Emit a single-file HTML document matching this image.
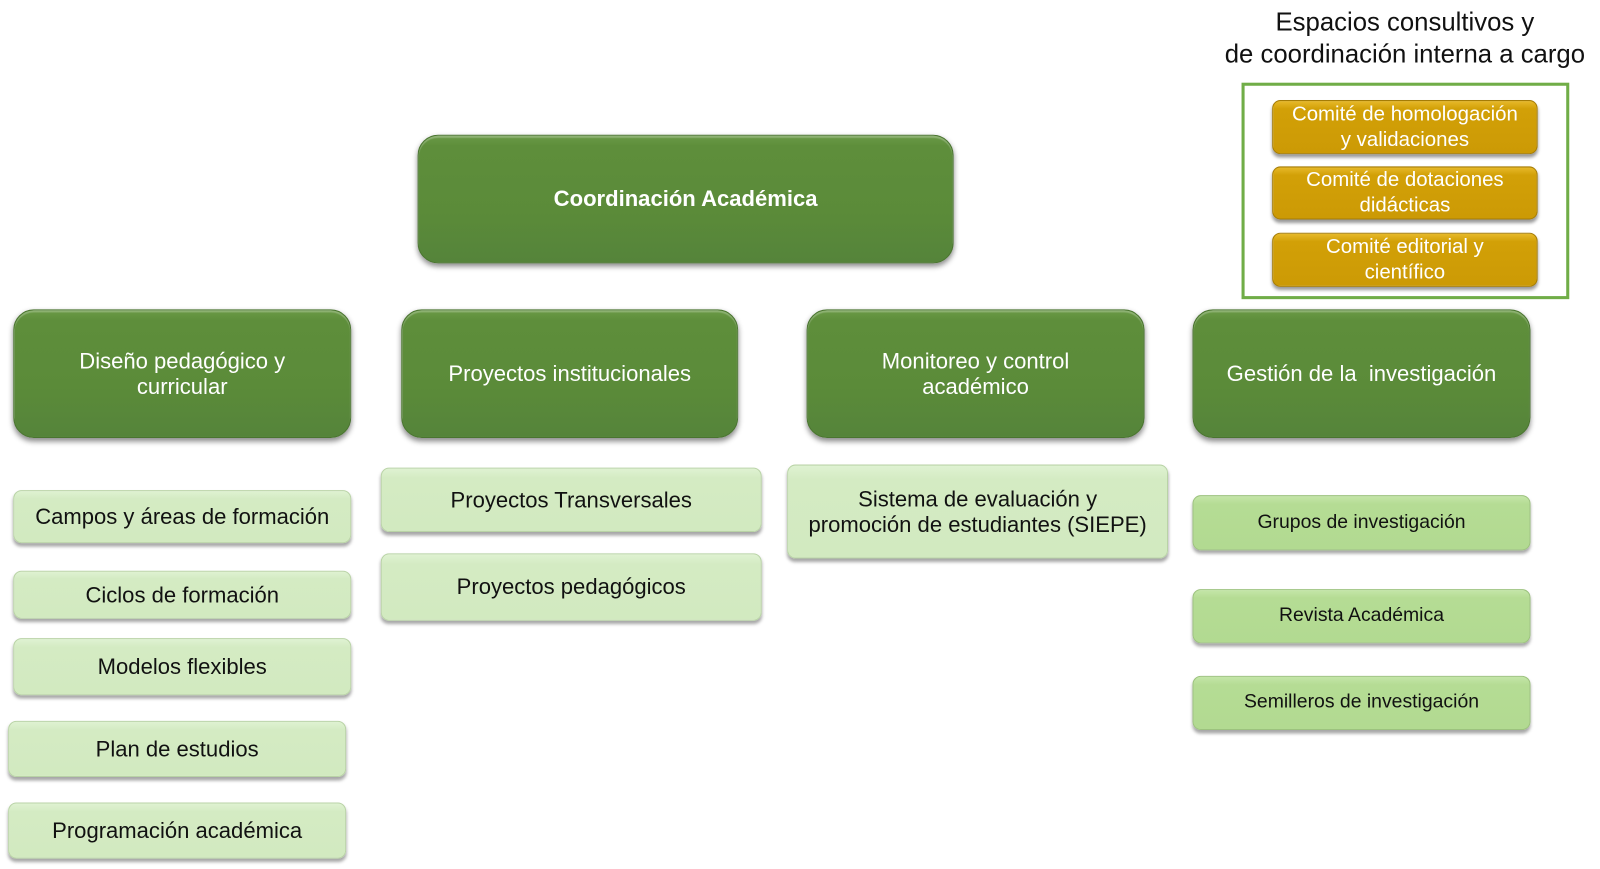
<!DOCTYPE html>
<html>
<head>
<meta charset="utf-8">
<style>
html,body{margin:0;padding:0;background:#fff;}
body{width:1600px;height:869px;position:relative;overflow:hidden;font-family:"Liberation Sans",Arial,sans-serif;}
#w{position:absolute;left:0;top:0;width:1567px;height:851px;transform:scale(1.021);transform-origin:0 0;}
.b{position:absolute;display:flex;align-items:center;justify-content:center;text-align:center;box-sizing:border-box;line-height:1.17;}
.dk{background:linear-gradient(#6a9a46 0%,#5e8e3b 8%,#5b8b39 60%,#55843a 100%);border:1px solid #4a7430;border-radius:20px;color:#fff;font-size:21.6px;box-shadow:0 3px 5px rgba(0,0,0,0.45), inset 0 2px 1px rgba(255,255,255,0.25);}
.lt{background:linear-gradient(#dff2d2 0%,#d4ebc3 15%,#d2eac0 100%);border:1px solid #b9d3a6;border-radius:8px;color:#111;font-size:21.6px;box-shadow:0 3px 3px rgba(0,0,0,0.35);}
.md{background:linear-gradient(#c4e6a8 0%,#b5dc94 15%,#b2da91 100%);border:1px solid #9cc27e;border-radius:8px;color:#111;font-size:19px;box-shadow:0 3px 3px rgba(0,0,0,0.35);}
.gd{background:linear-gradient(#e7b92a 0%,#d2a007 15%,#cc9a05 100%);border:1px solid #a57c05;border-radius:8px;color:#fff;font-size:20px;line-height:25px;box-shadow:0 3px 3px rgba(0,0,0,0.4);}
.title{position:absolute;left:1176px;width:400px;top:7px;text-align:center;font-size:25.2px;line-height:31px;color:#111;}
.frame{position:absolute;left:1216px;top:81px;width:321px;height:212px;border:3px solid #70ad47;box-sizing:border-box;}
</style>
</head>
<body>
<div id="w">
<div class="title">Espacios consultivos y<br>de coordinación interna a cargo</div>
<div class="frame"></div>
<div class="b gd" style="left:1246px;top:98px;width:260px;height:53px;">Comité de homologación<br>y validaciones</div>
<div class="b gd" style="left:1246px;top:163px;width:260px;height:52px;">Comité de dotaciones<br>didácticas</div>
<div class="b gd" style="left:1246px;top:228px;width:260px;height:53px;">Comité editorial y<br>científico</div>

<div class="b dk" style="left:409px;top:132px;width:525px;height:126px;font-weight:bold;">Coordinación Académica</div>

<div class="b dk" style="left:13px;top:303px;width:331px;height:126px;">Diseño pedagógico y<br>curricular</div>
<div class="b dk" style="left:393px;top:303px;width:330px;height:126px;">Proyectos institucionales</div>
<div class="b dk" style="left:790px;top:303px;width:331px;height:126px;">Monitoreo y control<br>académico</div>
<div class="b dk" style="left:1168px;top:303px;width:331px;height:126px;">Gestión de la&nbsp; investigación</div>

<div class="b lt" style="left:13px;top:480px;width:331px;height:52px;">Campos y áreas de formación</div>
<div class="b lt" style="left:13px;top:559px;width:331px;height:47px;">Ciclos de formación</div>
<div class="b lt" style="left:13px;top:625px;width:331px;height:56px;">Modelos flexibles</div>
<div class="b lt" style="left:8px;top:706px;width:331px;height:55px;">Plan de estudios</div>
<div class="b lt" style="left:8px;top:786px;width:331px;height:55px;">Programación académica</div>

<div class="b lt" style="left:373px;top:458px;width:373px;height:63px;">Proyectos Transversales</div>
<div class="b lt" style="left:373px;top:542px;width:373px;height:66px;">Proyectos pedagógicos</div>

<div class="b lt" style="left:771px;top:455px;width:373px;height:92px;">Sistema de evaluación y<br>promoción de estudiantes (SIEPE)</div>

<div class="b md" style="left:1168px;top:485px;width:331px;height:54px;">Grupos de investigación</div>
<div class="b md" style="left:1168px;top:577px;width:331px;height:53px;">Revista Académica</div>
<div class="b md" style="left:1168px;top:662px;width:331px;height:53px;">Semilleros de investigación</div>
</div>
</body>
</html>
